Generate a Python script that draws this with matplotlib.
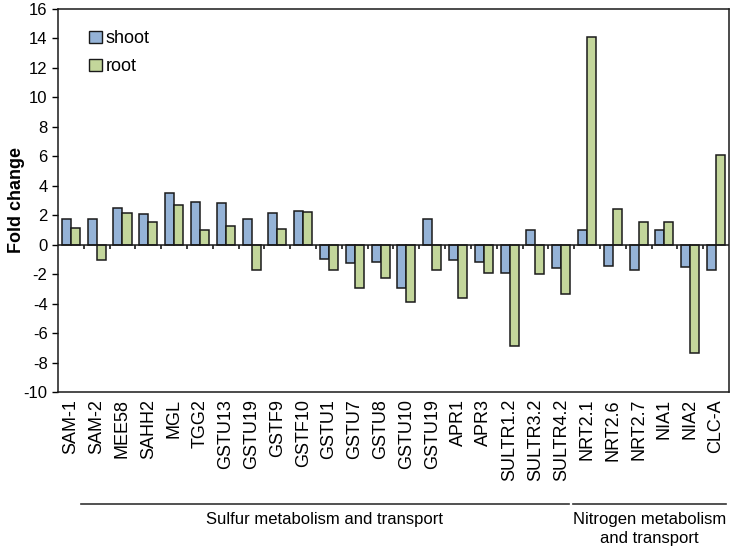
import numpy as np
import matplotlib.pyplot as plt
from matplotlib.patches import Patch
import matplotlib.transforms as mtransforms

plt.rcParams["font.family"] = ["Liberation Sans", "DejaVu Sans"]
plt.rcParams["axes.unicode_minus"] = False

# ============================================================
# DATA
# ============================================================

genes = [
    "SAM-1", "SAM-2", "MEE58", "SAHH2", "MGL", "TGG2", "GSTU13", "GSTU19",
    "GSTF9", "GSTF10", "GSTU1", "GSTU7", "GSTU8", "GSTU10", "GSTU19",
    "APR1", "APR3", "SULTR1.2", "SULTR3.2", "SULTR4.2",
    "NRT2.1", "NRT2.6", "NRT2.7", "NIA1", "NIA2", "CLC-A",
]

shoot = [1.75, 1.75, 2.5, 2.07, 3.52, 2.9, 2.86, 1.75, 2.16, 2.3,
         -0.98, -1.26, -1.21, -2.93, 1.75, -1.05, -1.16, -1.9, 1.03, -1.55,
         1.03, -1.46, -1.73, 1.03, -1.53, -1.73]

root = [1.1, -1.07, 2.14, 1.57, 2.7, 1.03, 1.3, -1.71, 1.07, 2.25,
        -1.73, -2.97, -2.23, -3.92, -1.71, -3.63, -1.9, -6.9, -2.0, -3.36,
        14.07, 2.43, 1.55, 1.57, -7.32, 6.08]

# group name, first index, last index
groups = [
    ("Sulfur metabolism and transport", 0, 19),
    ("Nitrogen metabolism\nand transport", 20, 25),
]

SHOOT_COLOR = "#95B3D7"
ROOT_COLOR = "#C3D69B"
EDGE = "#1a1a1a"

# ============================================================
# PLOT
# ============================================================

fig = plt.figure(figsize=(7.33, 5.51), dpi=100)
ax = fig.add_axes([0.0791, 0.2886, 0.9154, 0.6951])

x = np.arange(len(genes))
w = 0.35

ax.bar(x - w / 2, shoot, width=w, color=SHOOT_COLOR, edgecolor=EDGE, linewidth=1.1, zorder=2)
ax.bar(x + w / 2, root, width=w, color=ROOT_COLOR, edgecolor=EDGE, linewidth=1.1, zorder=2)

ax.set_xlim(-0.5, len(genes) - 0.5)
ax.set_ylim(-10, 16)
ax.set_yticks(np.arange(-10, 17, 2))

# zero line with small category divider ticks
ax.axhline(0, color=EDGE, linewidth=1.1, zorder=3)
bounds = np.arange(len(genes) + 1) - 0.5
ax.vlines(bounds[1:-1], -0.3, 0, color=EDGE, linewidth=1.2, zorder=3)

ax.set_xticks(x)
ax.set_xticklabels(genes, rotation=90, fontsize=13)
ax.tick_params(axis="x", length=0, pad=5)
ax.tick_params(axis="y", direction="out", length=4, labelsize=12, width=1)

for sp in ax.spines.values():
    sp.set_linewidth(1.1)
    sp.set_color(EDGE)

ax.set_ylabel("Fold change", fontsize=13, fontweight="bold")
ax.yaxis.set_label_coords(-0.049, 0.5)

handles = [
    Patch(facecolor=SHOOT_COLOR, edgecolor=EDGE, linewidth=1.0, label="shoot"),
    Patch(facecolor=ROOT_COLOR, edgecolor=EDGE, linewidth=1.0, label="root"),
]
ax.legend(handles=handles, loc="upper left", bbox_to_anchor=(0.028, 0.977),
          frameon=False, fontsize=13, handlelength=0.7, handleheight=0.7,
          handletextpad=0.2, labelspacing=0.6, borderaxespad=0.3)

# group brackets below the labels
trans = mtransforms.blended_transform_factory(ax.transData, ax.transAxes)
line_y = -0.292
spans = {0: (0.38, 19.3), 20: (19.46, 25.39)}
for name, i0, i1 in groups:
    xa, xb = spans[i0]
    ax.plot([xa, xb], [line_y, line_y], color="#333333", linewidth=1.2,
            transform=trans, clip_on=False)
    ax.text((xa + xb) / 2, line_y - 0.022, name, transform=trans,
            ha="center", va="top", fontsize=12, linespacing=1.35)

fig.savefig("out.png", dpi=100)
